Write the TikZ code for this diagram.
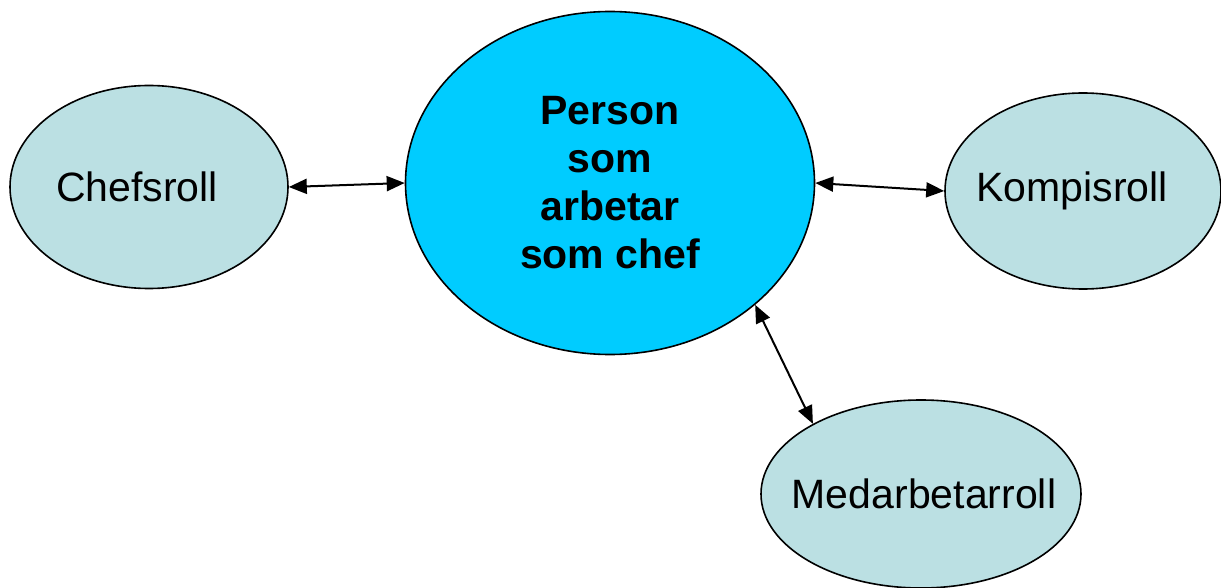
\documentclass[tikz,border=0pt]{standalone}
\usepackage{fontspec}
\setmainfont{Liberation Sans}
\usepackage{tikz}
\usetikzlibrary{arrows.meta,shapes.geometric}

\definecolor{rolefill}{HTML}{BBE0E3}
\definecolor{personfill}{HTML}{00CCFF}

% text that does not widen the ellipse
\newcommand{\rolename}[2][0pt]{\makebox[0pt]{#2\hspace*{#1}}}

\tikzset{
  role/.style={ellipse, draw, line width=1.6pt, fill=rolefill, inner sep=0pt,
    font=\fontsize{41}{48}\selectfont},
  link/.style={line width=2pt, {Triangle[length=18pt,width=15pt]}-{Triangle[length=18pt,width=15pt]}}
}

\begin{document}
\begin{tikzpicture}[x=1pt, y=-1pt]
  \useasboundingbox (0,0) rectangle (1221,588);

  % Roles
  \node[role, minimum width=278pt, minimum height=203pt] (chef) at (149,187) {\rolename[24pt]{Chefsroll}};
  \node[role, minimum width=276pt, minimum height=196pt] (kompis) at (1083,191) {\rolename[22pt]{Kompisroll}};
  \node[role, minimum width=320pt, minimum height=188pt] (medarb) at (921,494) {\rolename[-6pt]{Medarbetarroll}};

  % Person
  \node[role, fill=personfill, minimum width=409pt, minimum height=343pt,
        align=center, font=\fontsize{41}{48}\selectfont\bfseries] (person) at (610,183)
        {Person\\som\\arbetar\\som chef};

  % Links
  \draw[link] (chef.east) -- (person.west);
  \draw[link] (person.east) -- (kompis.west);
  \draw[link] (person.-40) -- (medarb.147);
\end{tikzpicture}
\end{document}
